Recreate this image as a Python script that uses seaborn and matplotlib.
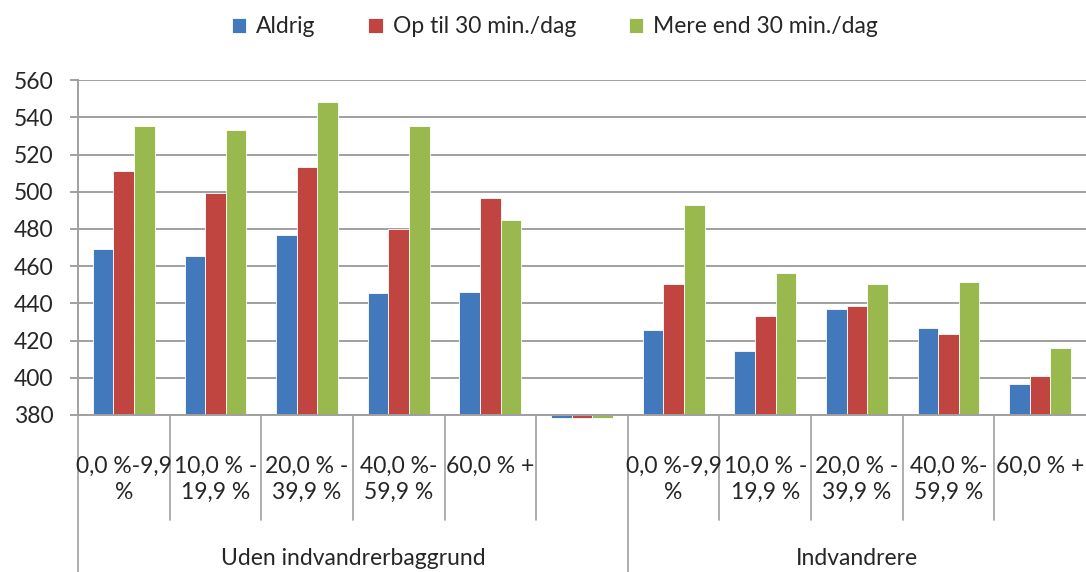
import matplotlib
matplotlib.use('Agg')
import matplotlib.pyplot as plt
import matplotlib.transforms as mtrans
import seaborn as sns
import pandas as pd

# data
series = ['Aldrig', 'Op til 30 min./dag', 'Mere end 30 min./dag']
slots = ['u0', 'u1', 'u2', 'u3', 'u4', 'gap', 'i0', 'i1', 'i2', 'i3', 'i4']
tick_labels = ['0,0 %-9,9\n%', '10,0 % -\n19,9 %', '20,0 % -\n39,9 %', '40,0 %-\n59,9 %', '60,0 % +', '',
               '0,0 %-9,9\n%', '10,0 % -\n19,9 %', '20,0 % -\n39,9 %', '40,0 %-\n59,9 %', '60,0 % +']
groups = ['Uden indvandrerbaggrund', 'Indvandrere']
group_spans = [(0, 6), (6, 11)]

aldrig = [469, 465.5, 476.5, 445.5, 446, 378.5, 425.5, 414.5, 436.8, 426.8, 396.5]
op_til_30 = [511, 499.5, 513.3, 480, 496.4, 378.5, 450.3, 433.2, 438.8, 423.5, 401]
mere_30 = [535.3, 533.2, 548.2, 535.4, 484.7, 378.5, 492.6, 456.2, 450.2, 451.4, 416.2]

colors = ['#4279BD', '#C0443F', '#99B94F']
y_base = 380
fs = 16.5

df = pd.DataFrame({
    'slot': slots * 3,
    'value': aldrig + op_til_30 + mere_30,
    'serie': [s for s in series for _ in slots],
})

sns.set_style('white')
plt.rcParams['font.family'] = ['Lato', 'DejaVu Sans']

fig = plt.figure(figsize=(10.86, 5.72), dpi=100)
ax = fig.add_axes([0.0718, 0.2745, 0.9282, 0.5855])

sns.barplot(data=df, x='slot', y='value', hue='serie', order=slots, hue_order=series,
            palette=colors, width=0.675, saturation=1, edgecolor='white', linewidth=0.6,
            legend=True, ax=ax)

# bars start at the axis floor like the original
for p in ax.patches:
    h = p.get_height()
    p.set_y(y_base)
    p.set_height(h - y_base)
    p.set_clip_on(False)

ax.set_ylim(380, 560)
ax.set_xlim(-0.5, len(slots) - 0.5)
ax.set_yticks(range(380, 561, 20))
ax.yaxis.grid(True, color='#A0A0A0', linewidth=1.4)
ax.set_axisbelow(True)
for side in ['top', 'right']:
    ax.spines[side].set_visible(False)
ax.spines['left'].set_color('#A0A0A0')
ax.spines['left'].set_linewidth(1.4)
ax.spines['bottom'].set_color('#A0A0A0')
ax.spines['bottom'].set_linewidth(1.4)
ax.tick_params(axis='y', left=True, length=5.8, width=1.4, color='#A0A0A0', labelsize=fs, pad=12)
ax.set_xticks([])
ax.set_xlabel('')
ax.set_ylabel('')

# category dividers and labels below the axis
tr = mtrans.blended_transform_factory(ax.transData, ax.transAxes)
for i in range(1, len(slots)):
    if i == 6:
        continue
    ax.plot([i - 0.5, i - 0.5], [0, -0.313], transform=tr, color='#A0A0A0', lw=1.2, clip_on=False)
for start, end in group_spans:
    ax.plot([start - 0.5, start - 0.5], [0, -0.48], transform=tr, color='#A0A0A0', lw=1.2, clip_on=False)
for i, lab in enumerate(tick_labels):
    ax.text(i, -0.122, lab, transform=tr, ha='center', va='top', fontsize=fs, linespacing=1.3)
for (start, end), g in zip(group_spans, groups):
    ax.text((start - 0.5 + end - 0.5) / 2, -0.43, g, transform=tr, ha='center', va='center',
            fontsize=fs)

ax.legend(loc='center', bbox_to_anchor=(0.511, 0.953), bbox_transform=fig.transFigure, ncol=3,
          frameon=False, fontsize=fs, handlelength=0.62, handleheight=0.62, handletextpad=0.45,
          columnspacing=2.3)

fig.savefig('out.png', dpi=100)
